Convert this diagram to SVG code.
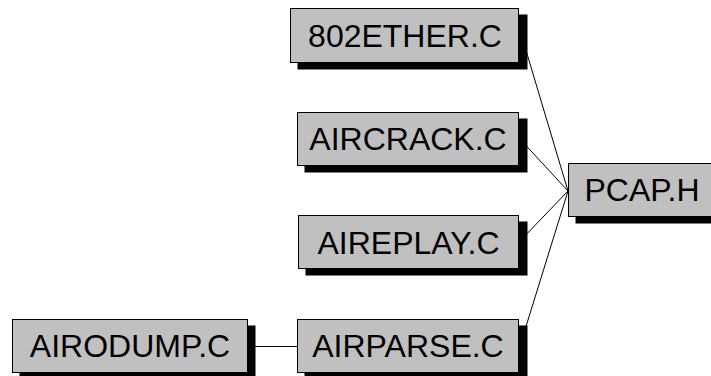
<svg xmlns="http://www.w3.org/2000/svg" width="711" height="376" viewBox="0 0 711 376">
  <style>
    .shadow { fill: #000000; }
    .box { fill: #c0c0c0; stroke: #000000; stroke-width: 1; }
    .label { font-family: "Liberation Sans", Arial, sans-serif; font-size: 32px; fill: #000000; text-anchor: middle; }
    .edge { stroke: #000000; stroke-width: 1; fill: none; }
  </style>

  <!-- dependency edges -->
  <g id="connectors">
    <line class="edge" x1="519" y1="27" x2="568" y2="191"/>
    <line class="edge" x1="519" y1="138" x2="568" y2="191"/>
    <line class="edge" x1="519" y1="242" x2="568" y2="191"/>
    <line class="edge" x1="519" y1="349" x2="568" y2="191"/>
    <line class="edge" x1="248" y1="346.5" x2="297" y2="346.5"/>
  </g>

  <g id="node-802ether">
    <rect class="shadow" x="297.5" y="14.5" width="230" height="55"/>
    <rect class="box" x="290.5" y="8.5" width="228" height="54"/>
    <text class="label" x="405" y="47">802ETHER.C</text>
  </g>

  <g id="node-aircrack">
    <rect class="shadow" x="304.5" y="118.5" width="223" height="54"/>
    <rect class="box" x="297.5" y="112.5" width="221" height="53"/>
    <text class="label" x="408" y="150">AIRCRACK.C</text>
  </g>

  <g id="node-aireplay">
    <rect class="shadow" x="305.5" y="221.5" width="222" height="54"/>
    <rect class="box" x="298.5" y="215.5" width="220" height="53"/>
    <text class="label" x="408.5" y="253.5">AIREPLAY.C</text>
  </g>

  <g id="node-airparse">
    <rect class="shadow" x="304.5" y="325.5" width="223" height="54"/>
    <rect class="box" x="297.5" y="319.5" width="221" height="53"/>
    <text class="label" x="408" y="357">AIRPARSE.C</text>
  </g>

  <g id="node-airodump">
    <rect class="shadow" x="19.5" y="325.5" width="236" height="54"/>
    <rect class="box" x="12.5" y="319.5" width="235" height="53"/>
    <text class="label" x="130" y="357">AIRODUMP.C</text>
  </g>

  <g id="node-pcap">
    <rect class="shadow" x="575.5" y="169.5" width="150" height="54"/>
    <rect class="box" x="568.5" y="163.5" width="148" height="53"/>
    <text class="label" x="642" y="201">PCAP.H</text>
  </g>
</svg>
